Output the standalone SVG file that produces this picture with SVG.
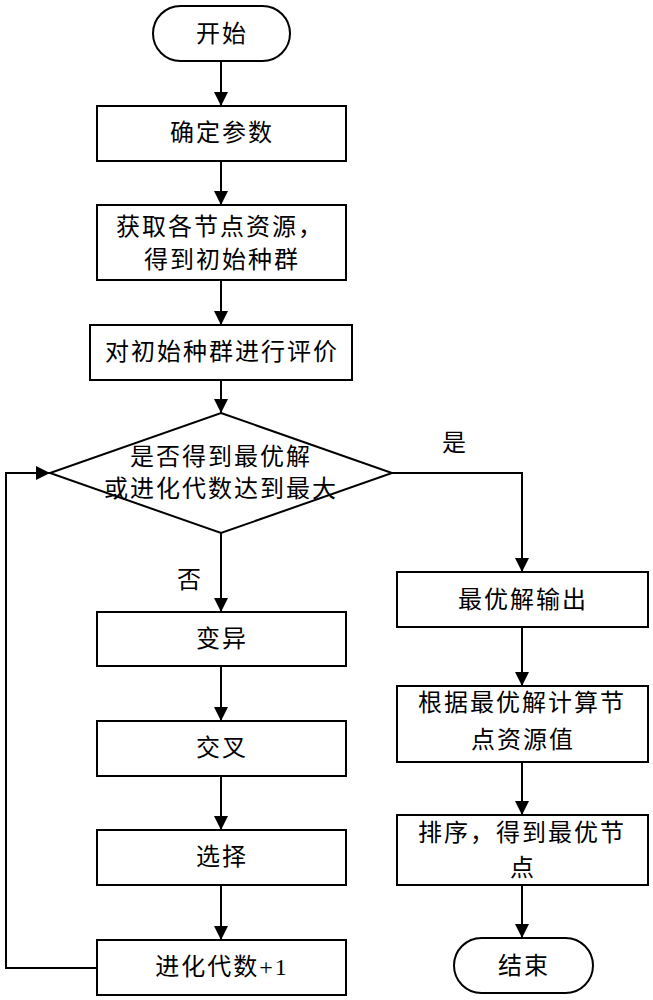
<svg xmlns="http://www.w3.org/2000/svg" width="653" height="1000" viewBox="0 0 653 1000">
<style>
.box{fill:#fff;stroke:#000;stroke-width:2}
.t{font-family:"Liberation Serif","Noto Sans CJK SC",serif;font-size:24px;letter-spacing:2px;fill:#000;text-anchor:middle;dominant-baseline:central}
.c{fill:none;stroke:#000;stroke-width:2;marker-end:url(#ah)}
.cn{fill:none;stroke:#000;stroke-width:2}
</style>
<defs>
<marker id="ah" markerUnits="userSpaceOnUse" markerWidth="14" markerHeight="14" viewBox="0 0 14 14" refX="14" refY="7" orient="auto">
<path d="M0,0 L14,7 L0,14 Z" fill="#000"/>
</marker>
</defs>
<rect width="653" height="1000" fill="#fff"/>
<g id="connectors">
<line class="c" x1="221" y1="61" x2="221" y2="106"/>
<line class="c" x1="221" y1="161" x2="221" y2="205"/>
<line class="c" x1="221" y1="280" x2="221" y2="325"/>
<line class="c" x1="221" y1="380" x2="221" y2="413"/>
<line class="c" x1="221" y1="533" x2="221" y2="612"/>
<line class="c" x1="221" y1="666" x2="221" y2="721"/>
<line class="c" x1="221" y1="776" x2="221" y2="830"/>
<line class="c" x1="221" y1="885" x2="221" y2="940"/>
<polyline class="c" points="97,968 6,968 6,473 50,473"/>
<polyline class="c" points="392,473 522,473 522,572"/>
<line class="c" x1="522" y1="627" x2="522" y2="686"/>
<line class="c" x1="522" y1="762" x2="522" y2="815"/>
<line class="c" x1="522" y1="885" x2="522" y2="938"/>
<text class="t" x="455" y="443">是</text>
<text class="t" x="190" y="580">否</text>
</g>
<g id="start"><rect class="box" x="153" y="6" width="137" height="55" rx="27.5"/><text class="t" x="222" y="34">开始</text></g>
<g id="params"><rect class="box" x="97" y="106" width="249" height="55"/><text class="t" x="222" y="133">确定参数</text></g>
<g id="init"><rect class="box" x="97" y="205" width="249" height="75"/><text class="t" x="220" y="227">获取各节点资源，</text><text class="t" x="222" y="260">得到初始种群</text></g>
<g id="eval"><rect class="box" x="90" y="325" width="262" height="55"/><text class="t" x="222" y="352">对初始种群进行评价</text></g>
<g id="decision"><polygon class="box" points="221,413 392,473 221,533 50,473"/><text class="t" x="221" y="457">是否得到最优解</text><text class="t" x="221" y="489">或进化代数达到最大</text></g>
<g id="mutate"><rect class="box" x="97" y="612" width="249" height="54"/><text class="t" x="222" y="639">变异</text></g>
<g id="cross"><rect class="box" x="97" y="721" width="249" height="55"/><text class="t" x="222" y="748">交叉</text></g>
<g id="select"><rect class="box" x="97" y="830" width="249" height="55"/><text class="t" x="222" y="857">选择</text></g>
<g id="gen"><rect class="box" x="97" y="940" width="249" height="55"/><text class="t" x="222" y="967">进化代数+1</text></g>
<g id="output"><rect class="box" x="397" y="572" width="251" height="55"/><text class="t" x="523" y="600">最优解输出</text></g>
<g id="calc"><rect class="box" x="397" y="686" width="251" height="76"/><text class="t" x="522" y="703">根据最优解计算节</text><text class="t" x="523" y="740">点资源值</text></g>
<g id="sort"><rect class="box" x="397" y="815" width="251" height="70"/><text class="t" x="522" y="833">排序，得到最优节</text><text class="t" x="523" y="868">点</text></g>
<g id="end"><rect class="box" x="454" y="938" width="139" height="55" rx="27.5"/><text class="t" x="524" y="966">结束</text></g>
</svg>
